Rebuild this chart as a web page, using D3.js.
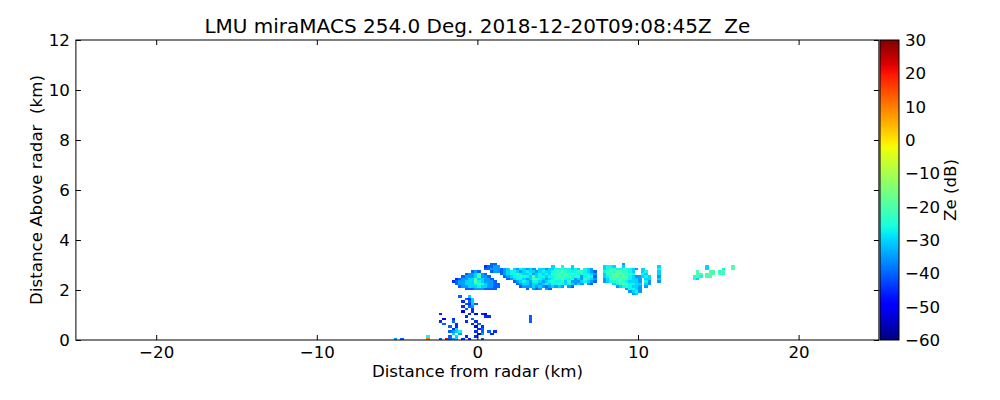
<!DOCTYPE html>
<html><head><meta charset="utf-8">
<script src="https://cdn.jsdelivr.net/npm/d3@7"></script>
<style>body{margin:0;background:#fff;} svg{display:block;font-family:"DejaVu Sans",sans-serif;} text{white-space:pre;}</style>
</head><body><svg id="c" width="1000" height="400"></svg>
<script>
const titleText = "LMU miraMACS 254.0 Deg. 2018-12-20T09:08:45Z  Ze";
const xLabel = "Distance from radar (km)";
const yLabel = "Distance Above radar  (km)";
const cbLabel = "Ze (dB)";
const xDomain = [-25, 25];
const yDomain = [0, 12];
const zeDomain = [-60, 30];
const xTicks = [-20, -10, 0, 10, 20];
const yTicks = [0, 2, 4, 6, 8, 10, 12];
const zeTicks = [-60, -50, -40, -30, -20, -10, 0, 10, 20, 30];

// echo grid (km): cell column c starts at gridX0 + c*gridDx, row r starts at r*gridDy
const gridX0 = -5.6, gridDx = 0.2, gridDy = 0.1;
// reflectivity code -> Ze (dB)
const zeCodes = {"1": -50, "2": -45, "3": -40, "4": -35, "5": -30, "6": -27, "7": -24, "8": -20, "9": -15, "y": 0, "o": 10, "r": 20};
// runs: [row, startColumn, codes]  ('.' = no echo)
const echoRuns = [
  // blob near radar
  [27, 26, "343"],
  [26, 24, "3445843"],
  [25, 23, "344458443"],
  [24, 21, "234455855443"],
  [23, 20, "23445558654443"],
  [22, 21, "34455567654433"],
  [21, 22, "3445556554433"],
  [20, 24, "3334443333"],
  // hook + band
  [30, 32, "33"],
  [29, 30, "23344"],
  [29, 51, "5..6..5"],
  [28, 30, "33444345.5465454.5545566766565.654"],
  [27, 32, "344345665456554565567787666776543"],
  [26, 35, "345667655645656577878777676654"],
  [25, 36, "34566776585665667877867746763"],
  [24, 37, "3456654588654567786674547654"],
  [23, 39, "34565466545676675744456543"],
  [22, 40, "345545545656676565454.43"],
  [21, 41, "34445454345454.43"],
  [20, 43, "3.434.43"],
  // cluster 8-10 km
  [30, 73, "4"],
  [29, 67, "5665..5"],
  [28, 67, "56776677654"],
  [27, 67, "6787887765"],
  [26, 67, "5788988776"],
  [25, 67, "567887886544"],
  [24, 67, "457878876554"],
  [23, 67, "456778765554"],
  [22, 70, "567876655"],
  [21, 71, "45676554"],
  [20, 74, "46654"],
  [19, 75, "4564"],
  [18, 76, "45"],
  // small columns
  [28, 79, "5"], [27, 79, "56"], [26, 79, "65"], [25, 79, "565"], [24, 80, "55"], [23, 80, "64"], [22, 80, "54"], [21, 80, "4"],
  [29, 84, "5"], [28, 84, "6"], [27, 84, "5"], [26, 84, "5"], [25, 84, "4"], [24, 84, "5"], [23, 84, "4"],
  // far right
  [27, 96, "8"], [26, 96, "88"], [25, 95, "786"], [24, 95, "75"],
  [29, 99, "5"], [28, 99, "5"], [27, 100, "88"], [26, 99, "888"], [25, 99, "88"],
  [28, 104, "6"], [27, 103, "78"], [26, 103, "87"],
  [29, 107, "8"], [28, 107, "8"],
  // low clutter near radar
  [17, 22, "3..5"],
  [16, 24, "325"],
  [15, 23, "2.35"],
  [14, 24, "3253"],
  [13, 23, "2.34"],
  [12, 24, "3.2"],
  [11, 23, "1..2"],
  [10, 16, "2"], [10, 25, "2.1"], [10, 29, "21"],
  [9, 24, "2"], [9, 30, "22"], [9, 44, "3"],
  [8, 17, "1"], [8, 20, "2"], [8, 26, "3"], [8, 44, "3"],
  [7, 16, "2"], [7, 20, "3"], [7, 24, "2"], [7, 27, "2"], [7, 44, "3"],
  [6, 17, "3"], [6, 21, "2"], [6, 26, "2"], [6, 28, "3"],
  [5, 19, "3.2"], [5, 27, "1.2"],
  [4, 20, "25"], [4, 28, "23"],
  [3, 19, "3456"], [3, 27, "2.3"], [3, 31, "3.2"],
  [2, 20, "5.4"], [2, 28, "14"], [2, 32, "2"],
  [1, 12, "6"], [1, 19, "3.5"], [1, 24, "2"], [1, 27, "2"],
  [0, 2, "4.3"], [0, 12, "o"], [0, 16, "3.r345.2.2...3"]
];

// matplotlib "jet"
function pw(pts, t) {
  for (let i = 1; i < pts.length; i++) {
    if (t <= pts[i][0]) {
      const [t0, v0] = pts[i - 1], [t1, v1] = pts[i];
      return v0 + (v1 - v0) * (t - t0) / (t1 - t0);
    }
  }
  return pts[pts.length - 1][1];
}
function jet(t) {
  t = Math.max(0, Math.min(1, t));
  const r = pw([[0, 0], [0.35, 0], [0.66, 1], [0.89, 1], [1, 0.5]], t);
  const g = pw([[0, 0], [0.125, 0], [0.375, 1], [0.64, 1], [0.91, 0], [1, 0]], t);
  const b = pw([[0, 0.5], [0.11, 1], [0.34, 1], [0.65, 0], [1, 0]], t);
  return d3.rgb(r * 255, g * 255, b * 255).formatHex();
}

const svg = d3.select("#c");
const L = 75.9, R = 878.9, T = 40, B = 340;
const x = d3.scaleLinear().domain(xDomain).range([L, R]);
const y = d3.scaleLinear().domain(yDomain).range([B, T]);
const color = d3.scaleSequential(jet).domain(zeDomain);

// cells
const cells = [];
echoRuns.forEach(([row, col, codes]) => {
  for (let i = 0; i < codes.length; i++) {
    const ch = codes[i];
    if (ch === "." || ch === " " || zeCodes[ch] === undefined) continue;
    cells.push({ x0: gridX0 + (col + i) * gridDx, y0: row * gridDy, ze: zeCodes[ch] });
  }
});
svg.append("g").attr("shape-rendering", "crispEdges").selectAll("rect").data(cells).join("rect")
  .attr("x", d => x(d.x0))
  .attr("width", d => x(d.x0 + gridDx) - x(d.x0) + 0.3)
  .attr("y", d => y(d.y0 + gridDy))
  .attr("height", d => y(d.y0) - y(d.y0 + gridDy) + 0.3)
  .attr("fill", d => color(d.ze));

// axes
const fs = "16.67px";
const gx = svg.append("g").attr("transform", `translate(0,${B})`)
  .call(d3.axisBottom(x).tickValues(xTicks).tickSizeInner(-5).tickSizeOuter(0).tickPadding(6));
const gy = svg.append("g").attr("transform", `translate(${L},0)`)
  .call(d3.axisLeft(y).tickValues(yTicks).tickSizeInner(-5).tickSizeOuter(0).tickPadding(6));
const gt = svg.append("g").attr("transform", `translate(0,${T})`)
  .call(d3.axisTop(x).tickValues(xTicks).tickSizeInner(-5).tickSizeOuter(0).tickFormat(""));
const gr = svg.append("g").attr("transform", `translate(${R},0)`)
  .call(d3.axisRight(y).tickValues(yTicks).tickSizeInner(-5).tickSizeOuter(0).tickFormat(""));
[gx, gy, gt, gr].forEach(g => {
  g.select(".domain").remove();
  g.selectAll("text").attr("font-size", fs).attr("font-family", "DejaVu Sans").attr("fill", "#000");
  g.selectAll("line").attr("stroke", "#000");
});
svg.append("rect").attr("x", L).attr("y", T).attr("width", R - L).attr("height", B - T)
  .attr("fill", "none").attr("stroke", "#000").attr("stroke-width", 1);

// colorbar
const cbL = 880, cbW = 19;
const cy = d3.scaleLinear().domain(zeDomain).range([B, T]);
const grad = svg.append("defs").append("linearGradient").attr("id", "jetg")
  .attr("x1", 0).attr("y1", 1).attr("x2", 0).attr("y2", 0);
d3.range(0, 1.0001, 0.02).forEach(t => grad.append("stop").attr("offset", t).attr("stop-color", jet(t)));
svg.append("rect").attr("x", cbL).attr("y", T).attr("width", cbW).attr("height", B - T)
  .attr("fill", "url(#jetg)").attr("stroke", "#000").attr("stroke-width", 1);
const fmt = d3.format("d");
svg.append("g").selectAll("text").data(zeTicks).join("text")
  .attr("x", cbL + cbW + 6).attr("y", d => cy(d)).attr("dy", "0.36em")
  .attr("font-size", fs).text(d => fmt(d));

// texts
svg.append("text").attr("x", (L + R) / 2).attr("y", 33).attr("text-anchor", "middle")
  .attr("font-size", "20px").text(titleText);
svg.append("text").attr("x", (L + R) / 2).attr("y", 377).attr("text-anchor", "middle")
  .attr("font-size", fs).text(xLabel);
svg.append("text").attr("transform", `translate(42,${(T + B) / 2}) rotate(-90)`).attr("text-anchor", "middle")
  .attr("font-size", fs).text(yLabel);
svg.append("text").attr("transform", `translate(956,${(T + B) / 2}) rotate(-90)`).attr("text-anchor", "middle")
  .attr("font-size", fs).text(cbLabel);
</script></body></html>
